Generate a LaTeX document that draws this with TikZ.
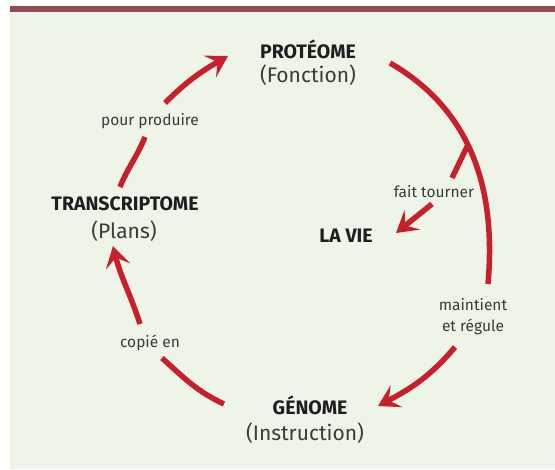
\documentclass[tikz,border=0pt]{standalone}
\usepackage{fontspec}
\setmainfont{Fira Sans}
\usetikzlibrary{arrows.meta}
\definecolor{panelbg}{HTML}{EEF5E8}
\definecolor{barcol}{HTML}{984A52}
\definecolor{arrred}{HTML}{C8202A}
\definecolor{darktxt}{HTML}{1E1E1E}
\definecolor{greytxt}{HTML}{3A3A3A}
\tikzset{
  x=1pt, y=-1pt,
  title/.style={font=\fontsize{19.5}{21}\selectfont\bfseries, text=darktxt, inner sep=0pt},
  sub/.style={font=\fontsize{21}{23}\selectfont, text=greytxt, inner sep=0pt},
  lbl/.style={font=\fontsize{15.5}{21}\selectfont, text=greytxt, inner sep=0pt, align=center},
  flow/.style={draw=arrred, line width=5.5pt},
  flowarr/.style={flow, -{Stealth[length=21pt,width=25pt,inset=9pt]}}
}
\begin{document}
\begin{tikzpicture}
\useasboundingbox (0,0) rectangle (555,470);
\fill[panelbg] (10,6) rectangle (555,469);
\fill[barcol] (10,6) rectangle (555,12);

\node[title] (prot) at (308,49) {PROTÉOME};
\node[sub] (fonc) at (308,75) {(Fonction)};
\node[title] (trans) at (125,204) {TRANSCRIPTOME};
\node[sub] (plans) at (124,231) {(Plans)};
\node[title] (vie) at (346,236) {LA VIE};
\node[title] (gen) at (310,405) {GÉNOME};
\node[sub] (instr) at (305,433) {(Instruction)};

\node[lbl] (pp) at (150,121) {pour produire};
\node[lbl] (ft) at (434,192) {fait tourner};
\node[lbl] (mr) at (473,317) {maintient\\et régule};
\node[lbl] (ce) at (150,343) {copié en};

% coordinates for connector ends
\coordinate (r1) at (390,63);
\coordinate (r2) at (488,284);
\coordinate (ftA) at (452,178);
\coordinate (ftB) at (432,204);
\coordinate (ftC) at (396,233);
\coordinate (mA) at (455,347);
\coordinate (mB) at (378,406);
\coordinate (cA) at (224,404);
\coordinate (cB) at (162,358);
\coordinate (cC) at (140,324);
\coordinate (cD) at (113,246);
\coordinate (pA) at (120,187);
\coordinate (pB) at (145,137);
\coordinate (pC) at (165,103);
\coordinate (pD) at (228,56);

% right arc with branch
\draw[flow] (r1) to[out=-30,in=85] coordinate[pos=0.45] (br) (r2);
\draw[flow] (br) -- (ftA);
\draw[flowarr] (ftB) -- (ftC);
\draw[flowarr] (mA) to[out=-130,in=28] (mB);

% left side
\draw[flow] (cA) to[out=155,in=-42] (cB);
\draw[flowarr] (cC) to[out=108,in=-76] (cD);
\draw[flow] (pA) to[out=68,in=-112] (pB);
\draw[flowarr] (pC) to[out=45,in=-150] (pD);
\end{tikzpicture}
\end{document}
